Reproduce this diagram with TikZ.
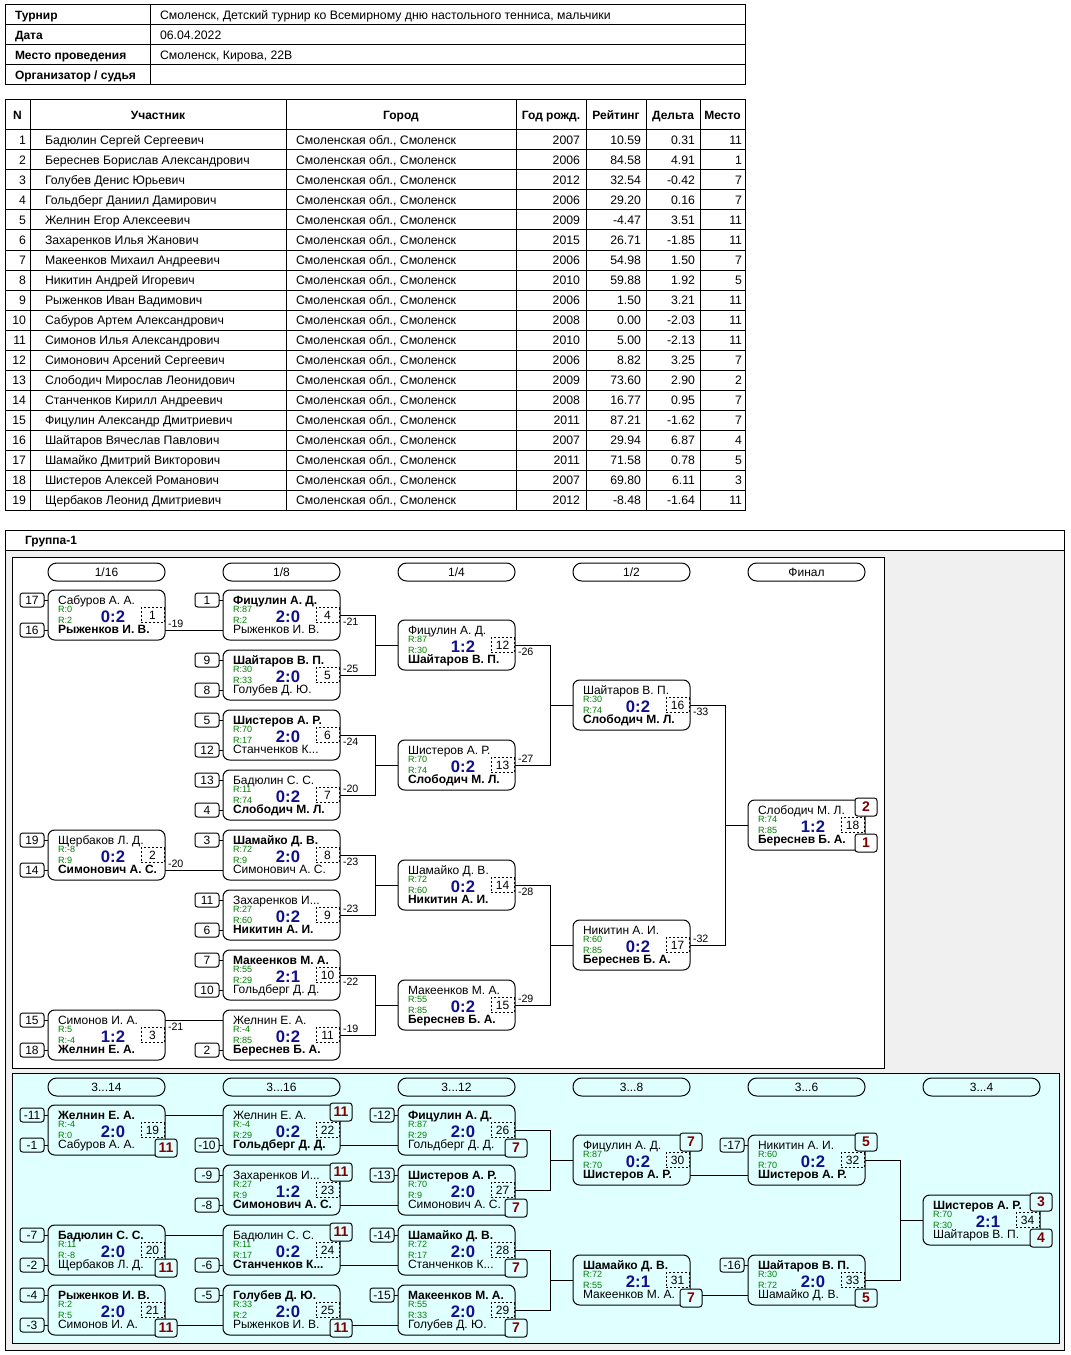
\documentclass[tikz,border=0pt]{standalone}
\usepackage{fontspec}
\setmainfont{Liberation Sans}
\usetikzlibrary{calc}
\definecolor{rgreen}{RGB}{0,128,0}
\definecolor{scblue}{RGB}{16,16,140}
\definecolor{plred}{RGB}{128,0,0}
\definecolor{bggray}{RGB}{240,240,240}
\definecolor{bgcyan}{RGB}{224,255,255}
\tikzset{
 every node/.style={inner sep=0pt, outer sep=0pt},
 mbox/.style={draw, rounded corners=5pt, minimum width=87.75pt, minimum height=37.5pt},
 pname/.style={anchor=base west, font=\fontsize{9}{10}\selectfont},
 rat/.style={anchor=base west, font=\fontsize{6.8}{7}\selectfont, text=rgreen},
 score/.style={anchor=base, font=\fontsize{12.5}{14}\selectfont\bfseries, text=scblue},
 numbox/.style={draw, dash pattern=on 1.5pt off 1.5pt, minimum width=17.25pt, minimum height=11.25pt, font=\fontsize{9}{10}\selectfont},
 seedbox/.style={draw, rounded corners=2pt, minimum width=18pt, minimum height=10.5pt, font=\fontsize{9}{10}\selectfont},
 placebox/.style={draw, rounded corners=2pt, minimum width=16.5pt, minimum height=13.5pt, font=\fontsize{10.5}{11}\selectfont\bfseries, text=plred},
 rlabel/.style={draw, rounded corners=6.5pt, minimum width=87.75pt, minimum height=13.5pt, font=\fontsize{9}{10}\selectfont},
 elim/.style={anchor=west, font=\fontsize{8}{9}\selectfont},
 tbl/.style={font=\fontsize{9.2}{10}\selectfont},
 tblb/.style={font=\fontsize{9}{10}\selectfont\bfseries},
}
% match box: id, x, y, top name, R1, R2, score, number, bottom name
\newcommand\mtch[9]{%
 \begin{scope}[shift={(#2,#3)}]
 \node[mbox] (#1) at (58.5,25) {};
 \node[pname] (#1-t) at (10,14.5) {#4};
 \node[rat] (#1-r1) at (10,22) {R:#5};
 \node[rat] (#1-r2) at (10,33) {R:#6};
 \node[score] (#1-s) at (65,32) {#7};
 \node[numbox] (#1-n) at (104.5,25) {#8};
 \node[pname] (#1-b) at (10,43.5) {#9};
 \coordinate (#1-lt) at (0,10);
 \coordinate (#1-lb) at (0,40);
 \coordinate (#1-rt) at (117,10);
 \coordinate (#1-rb) at (117,40);
 \end{scope}}
\newcommand\sd[3]{\node[seedbox,anchor=east] (#1) at ([xshift=-3pt]#2) {#3}; \draw (#1.east) -- (#2);}
\newcommand\plt[4]{\node[placebox,fill=#4] (#1) at ([shift={(1,-3)}]#2-rt) {#3};}
\newcommand\plb[4]{\node[placebox,fill=#4] (#1) at ([shift={(1,3)}]#2-rb) {#3};}
\begin{document}
\begin{tikzpicture}[x=0.75pt,y=-0.75pt,line width=0.75pt]
\useasboundingbox (0,0) rectangle (1070,1355);
\fill[white] (0,0) rectangle (1070,1355);
% ---------- header table
\draw (5,5) rectangle (745,85);
\foreach \yy in {25,45,65} \draw (5,\yy) -- (745,\yy);
\draw (150,5) -- (150,85);
\node[tblb,anchor=base west] (h1) at (15,19.5) {Турнир};
\node[tblb,anchor=base west] (h2) at (15,39.5) {Дата};
\node[tblb,anchor=base west] (h3) at (15,59.5) {Место проведения};
\node[tblb,anchor=base west] (h4) at (15,79.5) {Организатор / судья};
\node[tbl,anchor=base west] (v1) at (160,19.5) {Смоленск, Детский турнир ко Всемирному дню настольного тенниса, мальчики};
\node[tbl,anchor=base west] (v2) at (160,39.5) {06.04.2022};
\node[tbl,anchor=base west] (v3) at (160,59.5) {Смоленск, Кирова, 22В};
% ---------- participants table
\draw (5,100) rectangle (745,510);
\foreach \k in {0,...,18} \draw (5,130+20*\k) -- (745,130+20*\k);
\foreach \xx in {30,286,516,586,646,700} \draw (\xx,100) -- (\xx,510);
\node[tblb,anchor=base] (th1) at (17.5,119.5) {N};
\node[tblb,anchor=base] (th2) at (158,119.5) {Участник};
\node[tblb,anchor=base] (th3) at (401,119.5) {Город};
\node[tblb,anchor=base] (th4) at (551,119.5) {Год рожд.};
\node[tblb,anchor=base] (th5) at (616,119.5) {Рейтинг};
\node[tblb,anchor=base] (th6) at (673,119.5) {Дельта};
\node[tblb,anchor=base] (th7) at (722.5,119.5) {Место};
\foreach \nm/\yr/\rt/\dl/\pl [count=\i] in {
Бадюлин Сергей Сергеевич/2007/10.59/0.31/11,
Береснев Борислав Александрович/2006/84.58/4.91/1,
Голубев Денис Юрьевич/2012/32.54/-0.42/7,
Гольдберг Даниил Дамирович/2006/29.20/0.16/7,
Желнин Егор Алексеевич/2009/-4.47/3.51/11,
Захаренков Илья Жанович/2015/26.71/-1.85/11,
Макеенков Михаил Андреевич/2006/54.98/1.50/7,
Никитин Андрей Игоревич/2010/59.88/1.92/5,
Рыженков Иван Вадимович/2006/1.50/3.21/11,
Сабуров Артем Александрович/2008/0.00/-2.03/11,
Симонов Илья Александрович/2010/5.00/-2.13/11,
Симонович Арсений Сергеевич/2006/8.82/3.25/7,
Слободич Мирослав Леонидович/2009/73.60/2.90/2,
Станченков Кирилл Андреевич/2008/16.77/0.95/7,
Фицулин Александр Дмитриевич/2011/87.21/-1.62/7,
Шайтаров Вячеслав Павлович/2007/29.94/6.87/4,
Шамайко Дмитрий Викторович/2011/71.58/0.78/5,
Шистеров Алексей Романович/2007/69.80/6.11/3,
Щербаков Леонид Дмитриевич/2012/-8.48/-1.64/11}{
 \pgfmathsetmacro\yb{124.5+20*\i}
 \node[tbl,anchor=base east] (pn\i) at (26,\yb) {\i};
 \node[tbl,anchor=base west] (pa\i) at (45,\yb) {\nm};
 \node[tbl,anchor=base west] (pc\i) at (296,\yb) {Смоленская обл., Смоленск};
 \node[tbl,anchor=base east] (py\i) at (580,\yb) {\yr};
 \node[tbl,anchor=base east] (pr\i) at (641,\yb) {\rt};
 \node[tbl,anchor=base east] (pd\i) at (695,\yb) {\dl};
 \node[tbl,anchor=base east] (pp\i) at (742,\yb) {\pl};
}
% ---------- group frame
\fill[bggray] (5,550) rectangle (1064,1350);
\draw (5,530) rectangle (1064,1350);
\draw (5,550) -- (1064,550);
\node[tblb,anchor=base west] (grp) at (25,544) {Группа-1};
\filldraw[fill=white] (12,557) rectangle (884,1068);
\filldraw[fill=bgcyan] (12,1073) rectangle (1059,1343);
% round labels
\node[rlabel] (r1) at (106.5,572) {1/16};
\node[rlabel] (r2) at (281.5,572) {1/8};
\node[rlabel] (r3) at (456.5,572) {1/4};
\node[rlabel] (r4) at (631.5,572) {1/2};
\node[rlabel] (r5) at (806.5,572) {Финал};
\node[rlabel] (q1) at (106.5,1087) {3...14};
\node[rlabel] (q2) at (281.5,1087) {3...16};
\node[rlabel] (q3) at (456.5,1087) {3...12};
\node[rlabel] (q4) at (631.5,1087) {3...8};
\node[rlabel] (q5) at (806.5,1087) {3...6};
\node[rlabel] (q6) at (981.5,1087) {3...4};
% ---------- main bracket
\mtch{m1}{48}{590}{Сабуров А. А.}{0}{2}{0:2}{1}{\bfseries Рыженков И. В.}
\mtch{m2}{48}{830}{Щербаков Л. Д.}{-8}{9}{0:2}{2}{\bfseries Симонович А. С.}
\mtch{m3}{48}{1010}{Симонов И. А.}{5}{-4}{1:2}{3}{\bfseries Желнин Е. А.}
\mtch{m4}{223}{590}{\bfseries Фицулин А. Д.}{87}{2}{2:0}{4}{Рыженков И. В.}
\mtch{m5}{223}{650}{\bfseries Шайтаров В. П.}{30}{33}{2:0}{5}{Голубев Д. Ю.}
\mtch{m6}{223}{710}{\bfseries Шистеров А. Р.}{70}{17}{2:0}{6}{Станченков К...}
\mtch{m7}{223}{770}{Бадюлин С. С.}{11}{74}{0:2}{7}{\bfseries Слободич М. Л.}
\mtch{m8}{223}{830}{\bfseries Шамайко Д. В.}{72}{9}{2:0}{8}{Симонович А. С.}
\mtch{m9}{223}{890}{Захаренков И...}{27}{60}{0:2}{9}{\bfseries Никитин А. И.}
\mtch{m10}{223}{950}{\bfseries Макеенков М. А.}{55}{29}{2:1}{10}{Гольдберг Д. Д.}
\mtch{m11}{223}{1010}{Желнин Е. А.}{-4}{85}{0:2}{11}{\bfseries Береснев Б. А.}
\mtch{m12}{398}{620}{Фицулин А. Д.}{87}{30}{1:2}{12}{\bfseries Шайтаров В. П.}
\mtch{m13}{398}{740}{Шистеров А. Р.}{70}{74}{0:2}{13}{\bfseries Слободич М. Л.}
\mtch{m14}{398}{860}{Шамайко Д. В.}{72}{60}{0:2}{14}{\bfseries Никитин А. И.}
\mtch{m15}{398}{980}{Макеенков М. А.}{55}{85}{0:2}{15}{\bfseries Береснев Б. А.}
\mtch{m16}{573}{680}{Шайтаров В. П.}{30}{74}{0:2}{16}{\bfseries Слободич М. Л.}
\mtch{m17}{573}{920}{Никитин А. И.}{60}{85}{0:2}{17}{\bfseries Береснев Б. А.}
\mtch{m18}{748}{800}{Слободич М. Л.}{74}{85}{1:2}{18}{\bfseries Береснев Б. А.}
% seeds
\sd{s1a}{m1-lt}{17} \sd{s1b}{m1-lb}{16}
\sd{s2a}{m2-lt}{19} \sd{s2b}{m2-lb}{14}
\sd{s3a}{m3-lt}{15} \sd{s3b}{m3-lb}{18}
\sd{s4a}{m4-lt}{1}
\sd{s5a}{m5-lt}{9} \sd{s5b}{m5-lb}{8}
\sd{s6a}{m6-lt}{5} \sd{s6b}{m6-lb}{12}
\sd{s7a}{m7-lt}{13} \sd{s7b}{m7-lb}{4}
\sd{s8a}{m8-lt}{3}
\sd{s9a}{m9-lt}{11} \sd{s9b}{m9-lb}{6}
\sd{s10a}{m10-lt}{7} \sd{s10b}{m10-lb}{10}
\sd{s11b}{m11-lb}{2}
% connectors
\draw (m1-rb) -- (m4-lb);
\draw (m2-rb) -- (m8-lb);
\draw (m3-rt) -- (m11-lt);
\draw (m4.east) -- ++(35,0) coordinate (j1) |- (m5.east); \draw (j1 |- m12.west) -- (m12.west);
\draw (m6.east) -- ++(35,0) coordinate (j2) |- (m7.east); \draw (j2 |- m13.west) -- (m13.west);
\draw (m8.east) -- ++(35,0) coordinate (j3) |- (m9.east); \draw (j3 |- m14.west) -- (m14.west);
\draw (m10.east) -- ++(35,0) coordinate (j4) |- (m11.east); \draw (j4 |- m15.west) -- (m15.west);
\draw (m12.east) -- ++(35,0) coordinate (j5) |- (m13.east); \draw (j5 |- m16.west) -- (m16.west);
\draw (m14.east) -- ++(35,0) coordinate (j6) |- (m15.east); \draw (j6 |- m17.west) -- (m17.west);
\draw (m16.east) -- ++(35,0) coordinate (j7) |- (m17.east); \draw (j7 |- m18.west) -- (m18.west);
% elimination labels
\node[elim] (e1) at ([shift={(3,-6.5)}]m1-rb) {-19};
\node[elim] (e2) at ([shift={(3,-6.5)}]m2-rb) {-20};
\node[elim] (e3) at ([shift={(3,7)}]m3-rt) {-21};
\node[elim] (e4) at ([shift={(3,7)}]m4.east) {-21};
\node[elim] (e5) at ([shift={(3,-6.5)}]m5.east) {-25};
\node[elim] (e6) at ([shift={(3,7)}]m6.east) {-24};
\node[elim] (e7) at ([shift={(3,-6.5)}]m7.east) {-20};
\node[elim] (e8) at ([shift={(3,7)}]m8.east) {-23};
\node[elim] (e9) at ([shift={(3,-6.5)}]m9.east) {-23};
\node[elim] (e10) at ([shift={(3,7)}]m10.east) {-22};
\node[elim] (e11) at ([shift={(3,-6.5)}]m11.east) {-19};
\node[elim] (e12) at ([shift={(3,7)}]m12.east) {-26};
\node[elim] (e13) at ([shift={(3,-6.5)}]m13.east) {-27};
\node[elim] (e14) at ([shift={(3,7)}]m14.east) {-28};
\node[elim] (e15) at ([shift={(3,-6.5)}]m15.east) {-29};
\node[elim] (e16) at ([shift={(3,7)}]m16.east) {-33};
\node[elim] (e17) at ([shift={(3,-6.5)}]m17.east) {-32};
\plt{p18a}{m18}{2}{white} \plb{p18b}{m18}{1}{white}
% ---------- consolation bracket
\mtch{c19}{48}{1105}{\bfseries Желнин Е. А.}{-4}{0}{2:0}{19}{Сабуров А. А.}
\mtch{c20}{48}{1225}{\bfseries Бадюлин С. С.}{11}{-8}{2:0}{20}{Щербаков Л. Д.}
\mtch{c21}{48}{1285}{\bfseries Рыженков И. В.}{2}{5}{2:0}{21}{Симонов И. А.}
\mtch{c22}{223}{1105}{Желнин Е. А.}{-4}{29}{0:2}{22}{\bfseries Гольдберг Д. Д.}
\mtch{c23}{223}{1165}{Захаренков И...}{27}{9}{1:2}{23}{\bfseries Симонович А. С.}
\mtch{c24}{223}{1225}{Бадюлин С. С.}{11}{17}{0:2}{24}{\bfseries Станченков К...}
\mtch{c25}{223}{1285}{\bfseries Голубев Д. Ю.}{33}{2}{2:0}{25}{Рыженков И. В.}
\mtch{c26}{398}{1105}{\bfseries Фицулин А. Д.}{87}{29}{2:0}{26}{Гольдберг Д. Д.}
\mtch{c27}{398}{1165}{\bfseries Шистеров А. Р.}{70}{9}{2:0}{27}{Симонович А. С.}
\mtch{c28}{398}{1225}{\bfseries Шамайко Д. В.}{72}{17}{2:0}{28}{Станченков К...}
\mtch{c29}{398}{1285}{\bfseries Макеенков М. А.}{55}{33}{2:0}{29}{Голубев Д. Ю.}
\mtch{c30}{573}{1135}{Фицулин А. Д.}{87}{70}{0:2}{30}{\bfseries Шистеров А. Р.}
\mtch{c31}{573}{1255}{\bfseries Шамайко Д. В.}{72}{55}{2:1}{31}{Макеенков М. А.}
\mtch{c32}{748}{1135}{Никитин А. И.}{60}{70}{0:2}{32}{\bfseries Шистеров А. Р.}
\mtch{c33}{748}{1255}{\bfseries Шайтаров В. П.}{30}{72}{2:0}{33}{Шамайко Д. В.}
\mtch{c34}{923}{1195}{\bfseries Шистеров А. Р.}{70}{30}{2:1}{34}{Шайтаров В. П.}
% seeds
\sd{t19a}{c19-lt}{-11} \sd{t19b}{c19-lb}{-1}
\sd{t20a}{c20-lt}{-7} \sd{t20b}{c20-lb}{-2}
\sd{t21a}{c21-lt}{-4} \sd{t21b}{c21-lb}{-3}
\sd{t22b}{c22-lb}{-10}
\sd{t23a}{c23-lt}{-9} \sd{t23b}{c23-lb}{-8}
\sd{t24b}{c24-lb}{-6}
\sd{t25a}{c25-lt}{-5}
\sd{t26a}{c26-lt}{-12}
\sd{t27a}{c27-lt}{-13}
\sd{t28a}{c28-lt}{-14}
\sd{t29a}{c29-lt}{-15}
\sd{t32a}{c32-lt}{-17}
\sd{t33a}{c33-lt}{-16}
% connectors
\draw (c19-rt) -- (c22-lt);
\draw (c22-rb) -- (c26-lb);
\draw (c23-rb) -- (c27-lb);
\draw (c20-rt) -- (c24-lt);
\draw (c24-rb) -- (c28-lb);
\draw (c21-rb) -- (c25-lb);
\draw (c25-rb) -- (c29-lb);
\draw (c26.east) -- ++(35,0) coordinate (k1) |- (c27.east); \draw (k1 |- c30.west) -- (c30.west);
\draw (c28.east) -- ++(35,0) coordinate (k2) |- (c29.east); \draw (k2 |- c31.west) -- (c31.west);
\draw (c30-rb) -- (c32-lb);
\draw (c31-rb) -- (c33-lb);
\draw (c32.east) -- ++(35,0) coordinate (k3) |- (c33.east); \draw (k3 |- c34.west) -- (c34.west);
% places
\plb{u19}{c19}{11}{bgcyan}
\plb{u20}{c20}{11}{bgcyan}
\plb{u21}{c21}{11}{bgcyan}
\plt{u22}{c22}{11}{bgcyan}
\plt{u23}{c23}{11}{bgcyan}
\plt{u24}{c24}{11}{bgcyan}
\plb{u25}{c25}{11}{bgcyan}
\plb{u26}{c26}{7}{bgcyan}
\plb{u27}{c27}{7}{bgcyan}
\plb{u28}{c28}{7}{bgcyan}
\plb{u29}{c29}{7}{bgcyan}
\plt{u30}{c30}{7}{bgcyan}
\plb{u31}{c31}{7}{bgcyan}
\plt{u32}{c32}{5}{bgcyan}
\plb{u33}{c33}{5}{bgcyan}
\plt{u34a}{c34}{3}{bgcyan}
\plb{u34b}{c34}{4}{bgcyan}
\end{tikzpicture}
\end{document}
